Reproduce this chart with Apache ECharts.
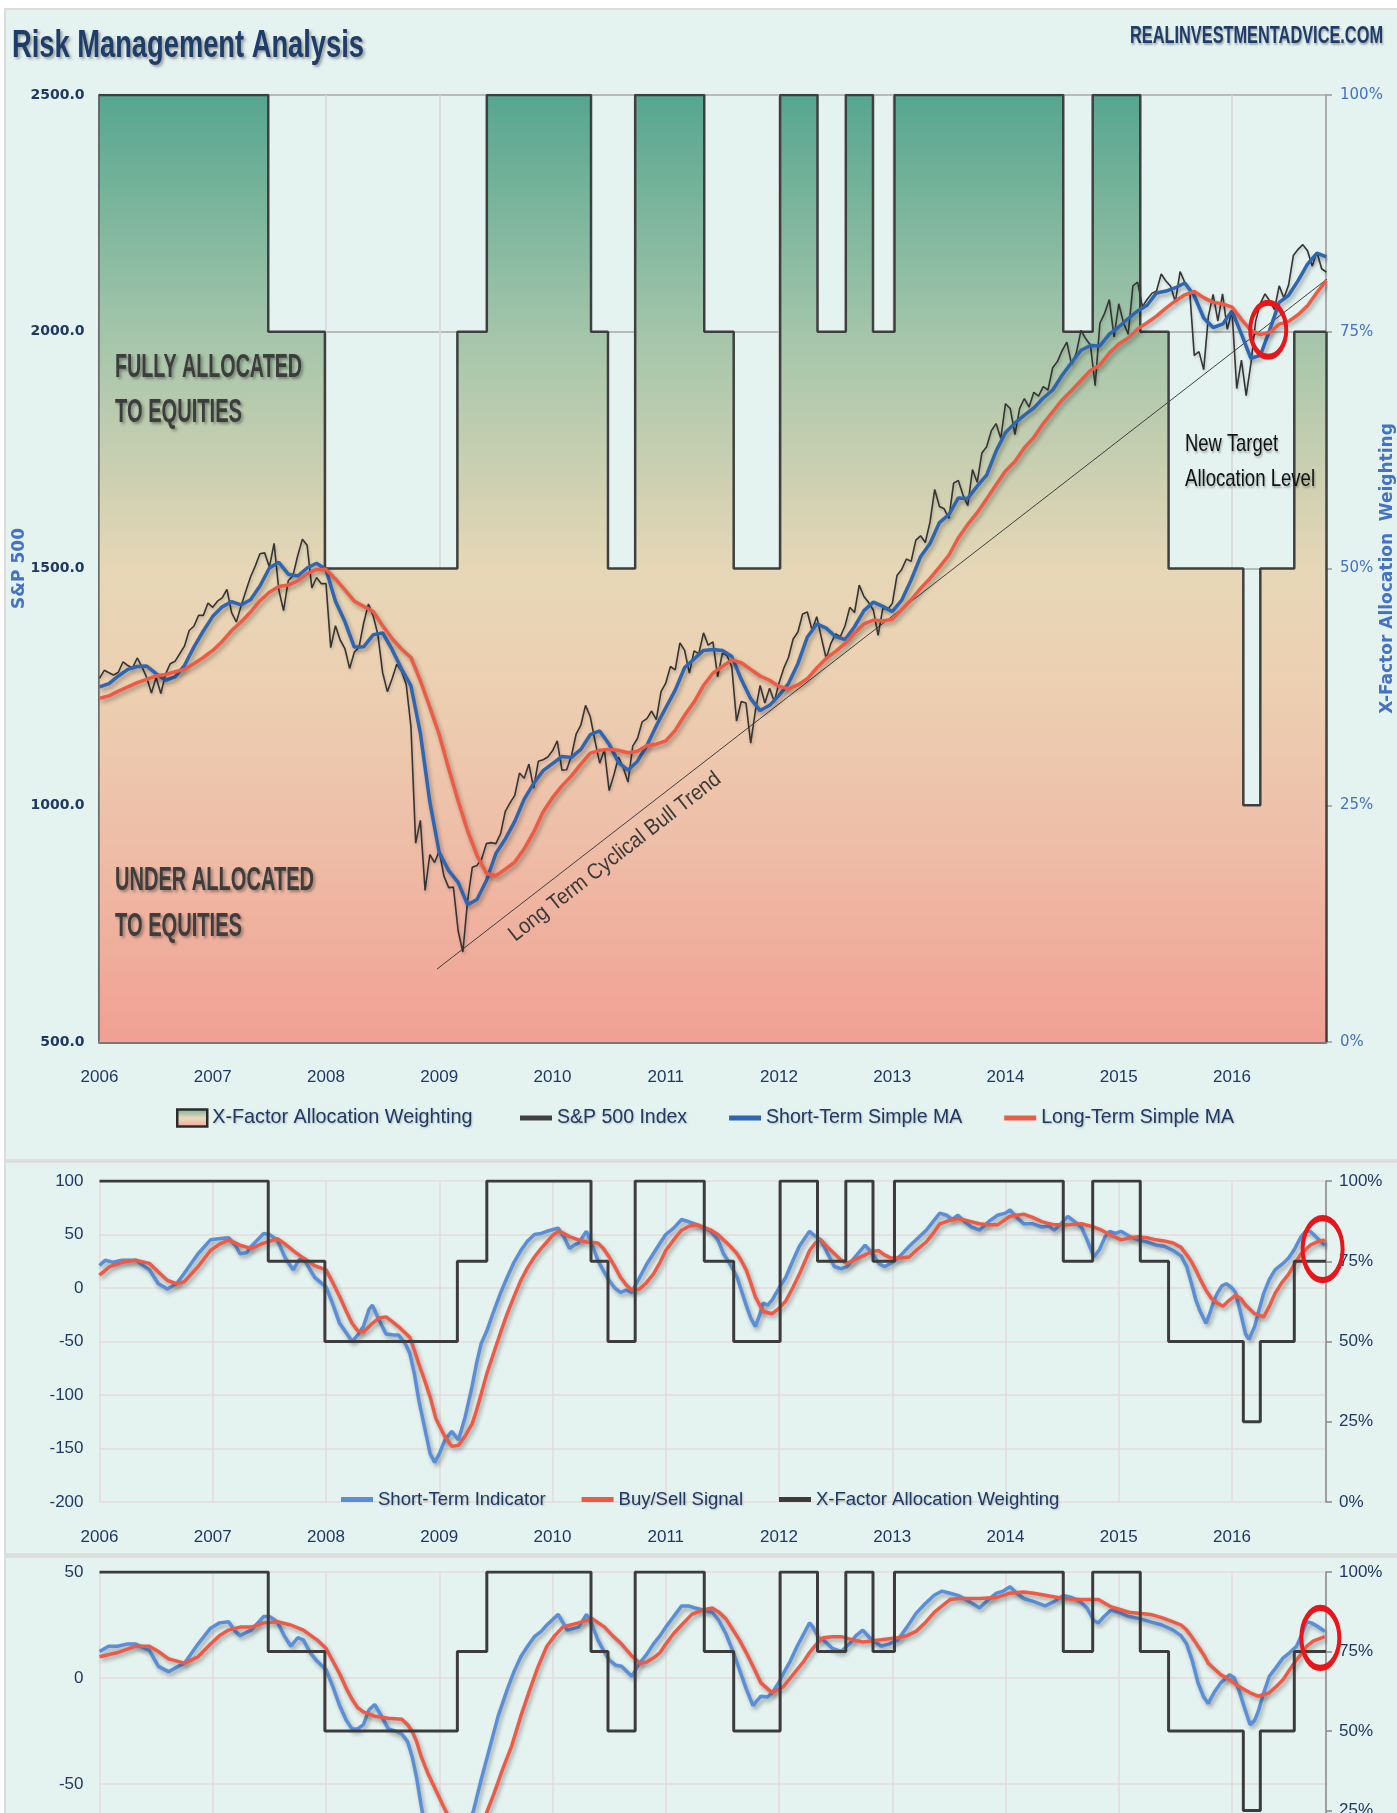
<!DOCTYPE html>
<html><head><meta charset="utf-8">
<script src="https://cdn.jsdelivr.net/npm/echarts@6/dist/echarts.min.js"></script>
<style>html,body{margin:0;padding:0;background:#fff}#c{width:1397px;height:1813px}</style>
</head><body><div id="c"></div>
<script>
// ---------------- DATA ----------------
const yearLabels = ['2006','2007','2008','2009','2010','2011','2012','2013','2014','2015','2016'];

// S&P 500 index, semi-monthly (start 2006.0, then mid / end of each month)
const spx500 = [1268,
 1285,1280,1275,1281,1303,1295,1290,1311,1292,1270,1237,1270,1236,1277,1299,1304,1320,1336,1369,1378,1401,1401,1427,1418,
 1431,1438,1456,1407,1387,1421,1452,1482,1505,1531,1533,1503,1553,1455,1411,1474,1485,1527,1562,1549,1459,1481,1468,1468,
 1333,1379,1349,1331,1289,1323,1334,1386,1425,1400,1360,1280,1240,1267,1298,1283,1255,1166,920,968,820,896,879,903,
 850,826,827,735,690,798,869,873,887,919,921,919,940,987,1005,1021,1068,1057,1087,1036,1093,1096,1102,1115,
 1136,1074,1075,1104,1150,1169,1211,1187,1136,1089,1117,1031,1064,1102,1079,1049,1125,1141,1176,1183,1199,1181,1240,1258,
 1293,1286,1343,1327,1279,1326,1320,1364,1338,1345,1271,1321,1316,1292,1178,1219,1216,1131,1200,1253,1216,1247,1219,1258,
 1289,1312,1351,1366,1404,1408,1370,1398,1353,1310,1342,1362,1356,1379,1418,1407,1465,1441,1428,1412,1359,1416,1413,1426,
 1485,1498,1520,1515,1560,1569,1555,1598,1667,1631,1626,1606,1680,1686,1655,1633,1709,1682,1744,1757,1791,1806,1775,1848,
 1838,1783,1838,1859,1841,1872,1864,1884,1877,1924,1937,1960,1978,1931,1955,2003,1985,1972,1886,2018,2039,2068,1989,2059,
 2019,1995,2097,2105,2053,2068,2081,2086,2122,2107,2096,2063,2127,2104,2091,1950,1958,1920,2033,2079,2023,2080,2005,2044,
 1880,1940,1865,1932,2022,2060,2080,2065,2047,2097,2071,2099,2161,2174,2184,2171,2139,2168,2133,2126];

// Short-term simple MA, month ends (start 2006.0)
const shortMA = [1250,
 1257,1273,1287,1293,1294,1278,1264,1271,1295,1334,1368,1399,
 1419,1430,1423,1434,1463,1501,1513,1488,1484,1501,1511,1498,
 1431,1388,1334,1335,1360,1364,1329,1288,1252,1152,1007,900,
 862,837,790,801,841,898,929,966,1013,1046,1073,1088,
 1103,1101,1118,1149,1157,1129,1090,1074,1093,1126,1168,1206,
 1243,1291,1309,1327,1329,1327,1314,1266,1225,1200,1211,1232,
 1257,1299,1355,1383,1374,1356,1350,1377,1411,1429,1420,1409,
 1433,1476,1525,1553,1597,1614,1649,1648,1674,1697,1748,1787,
 1807,1824,1839,1860,1877,1908,1935,1961,1971,1970,1995,2010,
 2028,2044,2056,2082,2086,2093,2103,2076,2029,2009,2016,2044,
 1995,1944,1950,2004,2062,2077,2108,2143,2166,2158];

// Long-term simple MA, month ends (start 2006.0)
const longMA = [1226,
 1231,1241,1250,1259,1266,1273,1276,1282,1287,1299,1312,1327,
 1346,1369,1387,1408,1432,1450,1462,1465,1474,1489,1498,1498,
 1478,1455,1431,1420,1409,1379,1352,1330,1312,1263,1207,1149,
 1077,1009,946,894,856,851,865,880,908,943,986,1016,
 1041,1062,1087,1110,1116,1118,1116,1111,1114,1126,1129,1136,
 1158,1190,1218,1253,1279,1293,1307,1301,1287,1273,1264,1251,
 1246,1254,1267,1290,1310,1325,1342,1364,1383,1391,1389,1393,
 1413,1434,1458,1479,1503,1528,1565,1593,1618,1647,1677,1706,
 1726,1755,1777,1806,1831,1856,1876,1897,1918,1930,1955,1974,
 1987,2006,2019,2033,2050,2065,2078,2085,2072,2062,2059,2052,
 2026,2003,1994,1999,2016,2022,2036,2055,2083,2108];

// X-Factor allocation weighting (%), change dates
const allocDates = [2006.00,2007.49,2007.99,2009.16,2009.42,2010.34,2010.49,2010.73,2011.34,2011.60,2012.01,2012.34,2012.59,2012.83,2013.02,2014.51,2014.77,2015.19,2015.44,2016.10,2016.25,2016.55,2016.83];
const allocPct   = [100,75,50,75,100,75,50,100,75,50,100,75,100,75,100,75,100,75,50,25,50,75,75];

// Long term cyclical bull trend line (start, end)
const trendLine = [[2008.98,654],[2017.01,2143]];

// Panel 2: Short-Term Indicator / Buy-Sell Signal
const shortTermIndicator = [[2006.0,21],[2006.05,26],[2006.12,24],[2006.2,26],[2006.32,26],[2006.44,17],[2006.52,4],[2006.6,-1],[2006.68,4],[2006.75,14],[2006.87,32],[2006.98,45],[2007.05,46],[2007.14,47],[2007.2,40],[2007.24,32],[2007.3,33],[2007.34,39],[2007.45,51],[2007.5,50],[2007.57,45],[2007.64,28],[2007.71,17],[2007.76,26],[2007.8,28],[2007.86,17],[2007.9,10],[2008.0,1],[2008.06,-15],[2008.12,-33],[2008.18,-42],[2008.23,-50],[2008.28,-44],[2008.33,-36],[2008.38,-20],[2008.41,-16],[2008.46,-28],[2008.53,-43],[2008.6,-44],[2008.64,-44],[2008.7,-52],[2008.74,-61],[2008.78,-80],[2008.82,-105],[2008.87,-130],[2008.92,-155],[2008.96,-163],[2009.0,-155],[2009.05,-142],[2009.11,-134],[2009.17,-142],[2009.23,-120],[2009.29,-92],[2009.33,-70],[2009.37,-52],[2009.42,-40],[2009.48,-22],[2009.54,-5],[2009.6,10],[2009.66,24],[2009.72,35],[2009.78,44],[2009.84,50],[2009.9,51],[2009.95,53],[2010.05,56],[2010.1,48],[2010.15,37],[2010.19,40],[2010.23,42],[2010.3,53],[2010.35,40],[2010.4,26],[2010.45,16],[2010.5,7],[2010.55,0],[2010.6,-4],[2010.65,-2],[2010.7,-4],[2010.77,10],[2010.83,22],[2010.89,32],[2010.95,42],[2011.0,50],[2011.07,56],[2011.14,64],[2011.2,62],[2011.28,59],[2011.34,56],[2011.4,53],[2011.46,45],[2011.51,32],[2011.57,22],[2011.63,10],[2011.67,-3],[2011.71,-16],[2011.75,-28],[2011.79,-36],[2011.83,-25],[2011.86,-14],[2011.9,-16],[2011.94,-11],[2012.0,0],[2012.06,10],[2012.12,25],[2012.18,39],[2012.23,47],[2012.27,53],[2012.3,50],[2012.37,45],[2012.43,32],[2012.49,20],[2012.55,18],[2012.6,20],[2012.68,30],[2012.76,40],[2012.82,33],[2012.88,23],[2012.93,20],[2012.99,23],[2013.07,30],[2013.15,39],[2013.22,46],[2013.3,54],[2013.36,62],[2013.42,70],[2013.48,68],[2013.53,64],[2013.58,68],[2013.64,62],[2013.7,57],[2013.77,54],[2013.85,62],[2013.93,68],[2014.0,70],[2014.04,73],[2014.1,66],[2014.16,60],[2014.24,60],[2014.32,57],[2014.38,58],[2014.43,54],[2014.49,60],[2014.55,67],[2014.61,62],[2014.67,57],[2014.72,45],[2014.78,29],[2014.83,36],[2014.88,48],[2014.92,53],[2014.97,51],[2015.02,53],[2015.1,48],[2015.17,45],[2015.25,43],[2015.33,40],[2015.4,39],[2015.48,35],[2015.55,30],[2015.6,20],[2015.64,5],[2015.68,-11],[2015.72,-22],[2015.77,-33],[2015.8,-25],[2015.84,-12],[2015.87,-5],[2015.91,2],[2015.95,4],[2016.0,0],[2016.03,-4],[2016.08,-25],[2016.12,-43],[2016.15,-48],[2016.2,-36],[2016.24,-20],[2016.28,-5],[2016.33,8],[2016.38,17],[2016.44,22],[2016.5,28],[2016.55,36],[2016.61,48],[2016.65,53],[2016.69,53],[2016.75,47],[2016.82,40]];

const buySellSignal = [[2006.0,12],[2006.09,20],[2006.2,24],[2006.32,26],[2006.44,23],[2006.52,15],[2006.6,7],[2006.68,4],[2006.75,6],[2006.87,20],[2006.98,35],[2007.06,41],[2007.14,45],[2007.24,40],[2007.34,37],[2007.45,42],[2007.57,46],[2007.64,41],[2007.71,35],[2007.8,28],[2007.9,21],[2008.0,17],[2008.06,5],[2008.12,-8],[2008.18,-22],[2008.23,-33],[2008.28,-40],[2008.33,-41],[2008.38,-36],[2008.41,-33],[2008.47,-28],[2008.53,-27],[2008.58,-31],[2008.64,-36],[2008.7,-42],[2008.74,-46],[2008.78,-58],[2008.82,-71],[2008.87,-86],[2008.92,-102],[2008.97,-122],[2009.05,-139],[2009.11,-148],[2009.17,-147],[2009.23,-138],[2009.29,-127],[2009.33,-114],[2009.37,-99],[2009.42,-80],[2009.48,-61],[2009.54,-42],[2009.6,-24],[2009.66,-8],[2009.72,7],[2009.78,19],[2009.84,29],[2009.9,37],[2009.95,43],[2010.0,49],[2010.05,53],[2010.1,51],[2010.15,48],[2010.23,45],[2010.3,43],[2010.4,42],[2010.45,37],[2010.5,29],[2010.55,20],[2010.6,10],[2010.65,3],[2010.7,-2],[2010.77,-1],[2010.83,5],[2010.89,13],[2010.95,24],[2011.0,35],[2011.07,45],[2011.14,54],[2011.21,58],[2011.28,59],[2011.4,54],[2011.46,50],[2011.51,45],[2011.57,39],[2011.63,32],[2011.67,25],[2011.71,17],[2011.75,5],[2011.79,-8],[2011.86,-22],[2011.94,-24],[2012.0,-19],[2012.06,-12],[2012.12,0],[2012.18,13],[2012.27,35],[2012.32,42],[2012.37,45],[2012.43,38],[2012.49,32],[2012.55,26],[2012.6,23],[2012.68,27],[2012.76,31],[2012.82,34],[2012.88,35],[2012.93,31],[2012.99,28],[2013.07,28],[2013.15,29],[2013.22,36],[2013.3,43],[2013.36,51],[2013.42,60],[2013.5,63],[2013.58,65],[2013.66,63],[2013.77,60],[2013.85,59],[2013.93,59],[2014.04,67],[2014.16,69],[2014.24,66],[2014.32,62],[2014.43,59],[2014.55,59],[2014.67,60],[2014.78,57],[2014.85,54],[2014.92,50],[2015.02,45],[2015.1,47],[2015.17,48],[2015.25,47],[2015.33,45],[2015.4,44],[2015.48,42],[2015.55,38],[2015.6,31],[2015.64,25],[2015.68,17],[2015.72,8],[2015.77,-2],[2015.82,-10],[2015.87,-14],[2015.92,-17],[2015.97,-12],[2016.03,-7],[2016.08,-10],[2016.12,-16],[2016.2,-24],[2016.28,-27],[2016.33,-17],[2016.38,-5],[2016.44,5],[2016.5,13],[2016.55,22],[2016.61,32],[2016.69,40],[2016.75,43],[2016.82,45]];

// Panel 3: Short-Term Indicator / Buy-Sell Signal (second variant)
const shortTermIndicator2 = [[2006.0,12.5],[2006.08,15],[2006.16,15],[2006.24,16],[2006.32,16],[2006.44,13],[2006.52,5.5],[2006.61,3],[2006.68,5],[2006.75,7],[2006.87,16],[2006.98,23.5],[2007.06,26],[2007.14,26.5],[2007.2,22],[2007.24,20],[2007.34,22.6],[2007.45,29],[2007.5,29],[2007.57,26.5],[2007.63,20],[2007.69,15],[2007.75,19],[2007.8,18],[2007.86,12],[2007.92,8],[2008.0,4],[2008.06,-4],[2008.12,-13],[2008.18,-20],[2008.23,-24],[2008.28,-24],[2008.33,-22],[2008.38,-15],[2008.43,-12.5],[2008.49,-18],[2008.55,-24],[2008.61,-25],[2008.67,-26.5],[2008.72,-30],[2008.76,-37],[2008.8,-47],[2008.84,-60],[2008.88,-72],[2008.93,-85],[2008.97,-90],[2009.03,-85],[2009.1,-77],[2009.17,-80],[2009.23,-74],[2009.3,-63],[2009.37,-48],[2009.44,-34],[2009.52,-18],[2009.6,-5.5],[2009.66,3],[2009.72,10],[2009.78,15],[2009.84,19.5],[2009.9,22],[2009.95,25],[2010.05,30],[2010.13,22.6],[2010.23,24],[2010.3,30],[2010.35,25],[2010.4,18],[2010.45,13],[2010.5,8.6],[2010.56,6],[2010.61,5.5],[2010.7,0.8],[2010.77,7],[2010.83,11],[2010.89,16],[2010.95,20],[2011.0,24],[2011.07,29],[2011.14,34],[2011.2,34],[2011.26,33],[2011.34,32],[2011.41,31],[2011.47,27],[2011.53,21],[2011.59,13],[2011.65,4],[2011.71,-5],[2011.77,-13],[2011.8,-11],[2011.84,-8.6],[2011.9,-9],[2011.94,-7],[2012.0,-2],[2012.04,2.3],[2012.1,8],[2012.16,15],[2012.22,21],[2012.27,26],[2012.3,24],[2012.35,19],[2012.39,18],[2012.47,14],[2012.55,12.5],[2012.62,16],[2012.68,20],[2012.74,22.6],[2012.8,19],[2012.9,15],[2012.97,16],[2013.05,18],[2013.13,24],[2013.21,30.5],[2013.29,35],[2013.37,39],[2013.44,41],[2013.51,40],[2013.58,39],[2013.65,37],[2013.71,35],[2013.77,33],[2013.85,37],[2013.92,40],[2013.98,41],[2014.04,43],[2014.1,40],[2014.16,37.5],[2014.25,36],[2014.35,34],[2014.43,36],[2014.51,39],[2014.58,38],[2014.66,36],[2014.72,33],[2014.78,27],[2014.82,26],[2014.87,29],[2014.93,32],[2015.0,31],[2015.09,29],[2015.18,28],[2015.28,26.5],[2015.38,25],[2015.48,22.6],[2015.55,20],[2015.6,16],[2015.65,8],[2015.7,-2.3],[2015.75,-9],[2015.79,-12],[2015.84,-7],[2015.9,-2.3],[2015.98,1.6],[2016.02,0],[2016.06,-5.5],[2016.11,-14],[2016.16,-22],[2016.2,-20],[2016.23,-16],[2016.28,-7],[2016.33,0.8],[2016.39,5],[2016.45,9.4],[2016.51,12],[2016.57,15],[2016.62,21],[2016.66,26.5],[2016.7,26],[2016.75,24.5],[2016.82,22]];

const buySellSignal2 = [[2006.0,10],[2006.16,12],[2006.32,15],[2006.44,15],[2006.52,12.5],[2006.61,9],[2006.75,7],[2006.87,10],[2006.98,16],[2007.06,20],[2007.14,22.6],[2007.24,24],[2007.34,24],[2007.45,26],[2007.57,26.5],[2007.69,25],[2007.8,22.6],[2007.92,18],[2008.0,14],[2008.06,8],[2008.12,2],[2008.18,-5],[2008.23,-10],[2008.28,-14],[2008.33,-16],[2008.43,-18],[2008.55,-19],[2008.67,-19.5],[2008.72,-22],[2008.76,-25],[2008.8,-30],[2008.84,-37],[2008.9,-45],[2008.97,-53],[2009.05,-62],[2009.13,-70],[2009.2,-76],[2009.27,-78],[2009.33,-74],[2009.4,-66],[2009.48,-55],[2009.56,-43],[2009.64,-32],[2009.72,-18],[2009.8,-5.5],[2009.87,5],[2009.95,15],[2010.02,20],[2010.09,24],[2010.16,25],[2010.23,26],[2010.35,28],[2010.46,24],[2010.53,20],[2010.61,16],[2010.69,11],[2010.77,7],[2010.83,7.5],[2010.89,9.4],[2010.95,12],[2011.0,16],[2011.07,21],[2011.14,25],[2011.23,30],[2011.32,32],[2011.41,33],[2011.47,31],[2011.53,28],[2011.59,23],[2011.65,18],[2011.71,12],[2011.77,5.5],[2011.84,-2.3],[2011.94,-7],[2012.04,-4],[2012.1,0],[2012.16,4],[2012.22,8],[2012.27,12],[2012.33,16],[2012.39,19],[2012.47,19.5],[2012.55,19.5],[2012.65,18],[2012.74,17],[2012.82,17.5],[2012.9,18],[2013.05,19],[2013.13,20],[2013.21,22],[2013.29,26],[2013.37,31],[2013.44,34],[2013.51,37],[2013.58,37.5],[2013.65,37.5],[2013.77,37.5],[2013.92,38],[2014.04,40],[2014.16,40.6],[2014.25,40],[2014.35,39],[2014.51,37.5],[2014.66,37],[2014.82,37],[2014.93,33.6],[2015.09,31],[2015.28,30],[2015.38,28.5],[2015.48,26.5],[2015.55,25],[2015.6,22.6],[2015.65,19],[2015.7,15],[2015.75,11],[2015.79,7],[2015.85,4],[2015.9,1.6],[2015.98,-0.8],[2016.06,-4],[2016.16,-7],[2016.23,-8.6],[2016.33,-7],[2016.39,-4],[2016.45,-0.8],[2016.51,4],[2016.57,8.6],[2016.62,12],[2016.66,15],[2016.72,17.5],[2016.82,19.5]];

// ---------------- STYLE ----------------
const SANS = "'Liberation Sans',Arial,sans-serif";
const DEJAVU = "'DejaVu Sans',Verdana,sans-serif";
const NAVY = '#1f3864';
const BLUE_AX = '#4472c4';
const C_SPX = '#353535', C_SMA = '#2e66b4', C_LMA = '#ee5b45';
const C_IND = '#5a8ed8', C_SIG = '#ef5a47', C_ALLOC = '#3c3c3c';
const XMIN = 2006, XMAX = 2016.83;

const areaGrad = new echarts.graphic.LinearGradient(0,0,0,1,[
  {offset:0, color:'#56a690'},{offset:0.25, color:'#a3c5aa'},{offset:0.5, color:'#e6d7b6'},
  {offset:0.62, color:'#ecd0b2'},{offset:0.78, color:'#eebfa8'},{offset:1, color:'#f1a093'}]);
const legendGrad = new echarts.graphic.LinearGradient(0,0,0,1,[
  {offset:0, color:'#6aae96'},{offset:0.5, color:'#ecd8bc'},{offset:1, color:'#f0a596'}]);

const shadow = {shadowColor:'rgba(0,0,0,0.32)', shadowBlur:4, shadowOffsetX:2, shadowOffsetY:3};
const legendText = (size)=>({color:NAVY, fontFamily:SANS, fontSize:size,
  textShadowColor:'rgba(0,0,0,0.22)', textShadowBlur:2, textShadowOffsetX:1, textShadowOffsetY:1});

const spxData = spx500.map((v,i)=>[XMIN + i/24, v]);
const smaData = shortMA.map((v,i)=>[XMIN + i/12, v]);
const lmaData = longMA.map((v,i)=>[XMIN + i/12, v]);
const allocData = allocDates.map((d,i)=>[d, allocPct[i]]);
const lastAlloc = allocPct[allocPct.length-1];

function yearFmt(v){ const r = Math.round(v); return Math.abs(v-r) < 1e-6 ? (yearLabels[r-2006] || '') : ''; }

function xAxis(gi, opts){
  return Object.assign({type:'value', gridIndex:gi, min:XMIN, max:XMAX, interval:1,
    axisLine:{show:false}, axisTick:{show:false},
    axisLabel:{show:true, formatter:yearFmt, showMaxLabel:false, color:NAVY, fontFamily:SANS, fontSize:17, margin:27},
    splitLine:{show:true, lineStyle:{color:'#dcdcdc', width:1.5}}}, opts||{});
}

// text fitted to a target width (condensed look of the original)
const mctx = document.createElement('canvas').getContext('2d');
function fitText(id, text, x, y, targetW, size, weight, fill, extra){
  mctx.font = (weight||'normal') + ' ' + size + 'px ' + SANS;
  const w = mctx.measureText(text).width || targetW;
  return {id, type:'text', x, y, scaleX: targetW / w, z:60,
    style:Object.assign({text, fill, fontFamily:SANS, fontWeight:weight||'normal', fontSize:size, verticalAlign:'middle'}, extra||{})};
}
const shd = (a,b,ox,oy)=>({textShadowColor:'rgba(0,0,0,'+a+')', textShadowBlur:b, textShadowOffsetX:ox, textShadowOffsetY:oy});

const gridCommon = {left:99.5, width:1226.5, containLabel:false, outerBoundsMode:'none'};
const option = {
  backgroundColor:'#e5f3f0',
  animation:false,
  grid:[
    Object.assign({top:95, height:947}, gridCommon),
    Object.assign({top:1181, height:321}, gridCommon),
    Object.assign({top:1572, height:318}, gridCommon)
  ],
  xAxis:[
    xAxis(0, {axisLine:{show:true, onZero:false, lineStyle:{color:'#7a7a7a', width:3}},
              splitLine:{show:true, lineStyle:{color:'#d6d6d6', width:1.5}}}),
    xAxis(1, {splitLine:{show:true, lineStyle:{color:'#e6dadd', width:1.5}}}),
    xAxis(2, {axisLabel:{show:false}, splitLine:{show:true, lineStyle:{color:'#e6dadd', width:1.5}}})
  ],
  yAxis:[
    {type:'value', gridIndex:0, position:'left', min:500, max:2500, interval:500,
     axisLine:{show:true, lineStyle:{color:'#3f3f3f', width:2.5}}, axisTick:{show:false},
     axisLabel:{formatter:v=>v.toFixed(1), color:NAVY, fontFamily:DEJAVU, fontWeight:'bold', fontSize:14, margin:15},
     splitLine:{show:true, lineStyle:{color:'#a9a9a9', width:1.5}},
     name:'S&P 500', nameLocation:'middle', nameRotate:90, nameGap:71, nameMoveOverlap:false,
     nameTextStyle:{color:BLUE_AX, fontFamily:DEJAVU, fontWeight:'bold', fontSize:17}},
    {type:'value', gridIndex:0, position:'right', min:0, max:100, interval:25,
     axisLine:{show:true, lineStyle:{color:'#9a9a9a', width:1.5}},
     axisTick:{show:true, length:6, lineStyle:{color:'#9a9a9a', width:1.5}},
     axisLabel:{formatter:v=>v+'%', color:BLUE_AX, fontFamily:DEJAVU, fontSize:15, margin:14},
     splitLine:{show:false},
     name:'X-Factor Allocation  Weighting', nameLocation:'middle', nameRotate:90, nameGap:53, nameMoveOverlap:false,
     nameTextStyle:{color:BLUE_AX, fontFamily:DEJAVU, fontWeight:'bold', fontSize:17}},
    {type:'value', gridIndex:1, position:'left', min:-200, max:100, interval:50,
     axisLine:{show:false}, axisTick:{show:false},
     axisLabel:{color:NAVY, fontFamily:SANS, fontSize:17, margin:16},
     splitLine:{show:true, lineStyle:{color:'#e6dadd', width:1.5}}},
    {type:'value', gridIndex:1, position:'right', min:0, max:100, interval:25,
     axisLine:{show:true, lineStyle:{color:'#8a8a8a', width:1.5}},
     axisTick:{show:true, length:6, lineStyle:{color:'#8a8a8a', width:1.5}},
     axisLabel:{formatter:v=>v+'%', color:NAVY, fontFamily:SANS, fontSize:17, margin:13},
     splitLine:{show:false}},
    {type:'value', gridIndex:2, position:'left', min:-100, max:50, interval:50,
     axisLine:{show:false}, axisTick:{show:false},
     axisLabel:{color:NAVY, fontFamily:SANS, fontSize:17, margin:16},
     splitLine:{show:true, lineStyle:{color:'#e6dadd', width:1.5}}},
    {type:'value', gridIndex:2, position:'right', min:0, max:100, interval:25,
     axisLine:{show:true, lineStyle:{color:'#8a8a8a', width:1.5}},
     axisTick:{show:true, length:6, lineStyle:{color:'#8a8a8a', width:1.5}},
     axisLabel:{formatter:v=>v+'%', color:NAVY, fontFamily:SANS, fontSize:17, margin:13},
     splitLine:{show:false}}
  ],
  legend:[
    {left:176, top:1108, padding:0, itemWidth:30, itemHeight:17, selectedMode:false,
     textStyle:legendText(19.8),
     data:[{name:'X-Factor Allocation Weighting', icon:'rect', itemStyle:{color:legendGrad, borderColor:'#2b2b2b', borderWidth:2.5}}]},
    {left:520, top:1108, padding:0, itemWidth:32, itemHeight:5, itemGap:42, selectedMode:false,
     textStyle:legendText(19.5),
     data:[{name:'S&P 500 Index', icon:'rect', itemStyle:{color:'#404040', borderWidth:0}},
           {name:'Short-Term Simple MA', icon:'rect', itemStyle:{color:C_SMA, borderWidth:0}},
           {name:'Long-Term Simple MA', icon:'rect', itemStyle:{color:C_LMA, borderWidth:0}}]},
    {left:341, top:1490, padding:0, itemWidth:32, itemHeight:5, itemGap:36, selectedMode:false,
     textStyle:legendText(18.5),
     data:[{name:'Short-Term Indicator', icon:'rect', itemStyle:{color:C_IND, borderWidth:0}},
           {name:'Buy/Sell Signal', icon:'rect', itemStyle:{color:C_SIG, borderWidth:0}},
           {name:'X-Factor Allocation Weighting', icon:'rect', itemStyle:{color:C_ALLOC, borderColor:C_ALLOC, borderWidth:0}}]}
  ],
  series:[
    {name:'X-Factor Allocation Weighting', type:'line', xAxisIndex:0, yAxisIndex:1, step:'end',
     data:allocData, symbol:'none', z:1,
     lineStyle:{color:'#3f3f3f', width:2.5}, itemStyle:{color:'#3f3f3f'},
     areaStyle:{color:areaGrad, opacity:1, origin:'start'},
     markLine:{silent:true, symbol:'none', label:{show:false}, lineStyle:{color:'#3f3f3f', width:2.5, type:'solid'},
       data:[[{coord:[XMAX,0]},{coord:[XMAX,lastAlloc]}]]}},
    {name:'trend', type:'line', xAxisIndex:0, yAxisIndex:0, data:trendLine, symbol:'none', clip:false, silent:true,
     lineStyle:{color:'#404040', width:1}, z:2},
    {name:'S&P 500 Index', type:'line', xAxisIndex:0, yAxisIndex:0, data:spxData, symbol:'none', z:3,
     lineStyle:{color:C_SPX, width:1.6, shadowColor:'rgba(0,0,0,0.2)', shadowBlur:3, shadowOffsetX:1, shadowOffsetY:2}},
    {name:'Short-Term Simple MA', type:'line', xAxisIndex:0, yAxisIndex:0, data:smaData, symbol:'none', z:4,
     lineStyle:Object.assign({color:C_SMA, width:3.5}, shadow), itemStyle:{color:C_SMA}},
    {name:'Long-Term Simple MA', type:'line', xAxisIndex:0, yAxisIndex:0, data:lmaData, symbol:'none', z:5,
     lineStyle:Object.assign({color:C_LMA, width:3.5}, shadow), itemStyle:{color:C_LMA}},

    {name:'Short-Term Indicator', type:'line', xAxisIndex:1, yAxisIndex:2, data:shortTermIndicator, symbol:'none',
     lineStyle:Object.assign({color:C_IND, width:3.5}, shadow), itemStyle:{color:C_IND}},
    {name:'Buy/Sell Signal', type:'line', xAxisIndex:1, yAxisIndex:2, data:buySellSignal, symbol:'none',
     lineStyle:Object.assign({color:C_SIG, width:3.5}, shadow), itemStyle:{color:C_SIG}},
    {name:'X-Factor Allocation Weighting', type:'line', xAxisIndex:1, yAxisIndex:3, step:'end', data:allocData, symbol:'none',
     lineStyle:{color:C_ALLOC, width:3}, itemStyle:{color:C_ALLOC}},

    {name:'Short-Term Indicator', type:'line', xAxisIndex:2, yAxisIndex:4, data:shortTermIndicator2, symbol:'none',
     lineStyle:Object.assign({color:C_IND, width:3.5}, shadow), itemStyle:{color:C_IND}},
    {name:'Buy/Sell Signal', type:'line', xAxisIndex:2, yAxisIndex:4, data:buySellSignal2, symbol:'none',
     lineStyle:Object.assign({color:C_SIG, width:3.5}, shadow), itemStyle:{color:C_SIG}},
    {name:'X-Factor Allocation Weighting', type:'line', xAxisIndex:2, yAxisIndex:5, step:'end', data:allocData, symbol:'none',
     lineStyle:{color:C_ALLOC, width:3}, itemStyle:{color:C_ALLOC}}
  ],
  graphic:[
    {id:'topWhite', type:'rect', shape:{x:0,y:0,width:1397,height:8}, style:{fill:'#ffffff'}, z:0},
    {id:'leftWhite', type:'rect', shape:{x:0,y:0,width:4,height:1813}, style:{fill:'#ffffff'}, z:0},
    {id:'topBorder', type:'rect', shape:{x:4,y:8,width:1393,height:2}, style:{fill:'#dcdcdc'}, z:0},
    {id:'leftBorder', type:'rect', shape:{x:4,y:8,width:2,height:1805}, style:{fill:'#dcdcdc'}, z:0},
    {id:'sep1', type:'rect', shape:{x:4,y:1159,width:1393,height:4}, style:{fill:'#dcdedd'}, z:0},
    {id:'sep2', type:'rect', shape:{x:4,y:1553,width:1393,height:5}, style:{fill:'#dcdedd'}, z:0},
    fitText('title', 'Risk Management Analysis', 12, 47, 352, 38, 'bold', '#1f3d6b', shd(0.35,3,2,2)),
    fitText('site', 'REALINVESTMENTADVICE.COM', 1383, 37, 253, 23, 'bold', '#1f3d6b', Object.assign({align:'right'}, shd(0.3,2,1,2))),
    fitText('full1', 'FULLY ALLOCATED', 115, 368, 187, 33, 'bold', '#3d3d3d', shd(0.35,3,2,2)),
    fitText('full2', 'TO EQUITIES', 115, 413, 127, 33, 'bold', '#3d3d3d', shd(0.35,3,2,2)),
    fitText('under1', 'UNDER ALLOCATED', 115, 881, 199, 33, 'bold', '#3d3d3d', shd(0.35,3,2,2)),
    fitText('under2', 'TO EQUITIES', 115, 927, 127, 33, 'bold', '#3d3d3d', shd(0.35,3,2,2)),
    fitText('newT1', 'New Target', 1185, 444, 93, 24, 'normal', '#111111', shd(0.3,2,1,2)),
    fitText('newT2', 'Allocation Level', 1185, 479, 130, 24, 'normal', '#111111', shd(0.3,2,1,2)),
    Object.assign(fitText('trendTxt', 'Long Term Cyclical Bull Trend', 615, 857, 262, 22, 'normal', '#3a3a3a', {align:'center'}),
      {rotation:0.66})
  ]
};

const chart = echarts.init(document.getElementById('c'), null, {renderer:'canvas', width:1397, height:1813});
chart.setOption(option);

// highlight circles placed in data coordinates
const circleMarks = [
  {id:'circ1', xAxisIndex:0, yAxisIndex:0, at:[2016.32, 2004], rx:18, ry:27},
  {id:'circ2', xAxisIndex:1, yAxisIndex:2, at:[2016.80, 36.4], rx:20, ry:31},
  {id:'circ3', xAxisIndex:2, yAxisIndex:4, at:[2016.78, 18.9], rx:19, ry:30}
];
chart.setOption({graphic: circleMarks.map(c => {
  const p = chart.convertToPixel({xAxisIndex:c.xAxisIndex, yAxisIndex:c.yAxisIndex}, c.at);
  return {id:c.id, type:'circle', x:p[0], y:p[1], scaleY:c.ry/c.rx, z:80,
          shape:{cx:0, cy:0, r:c.rx}, style:{fill:'none', stroke:'#e8151b', lineWidth:4, strokeNoScale:true}};
})});
</script>
</body></html>
